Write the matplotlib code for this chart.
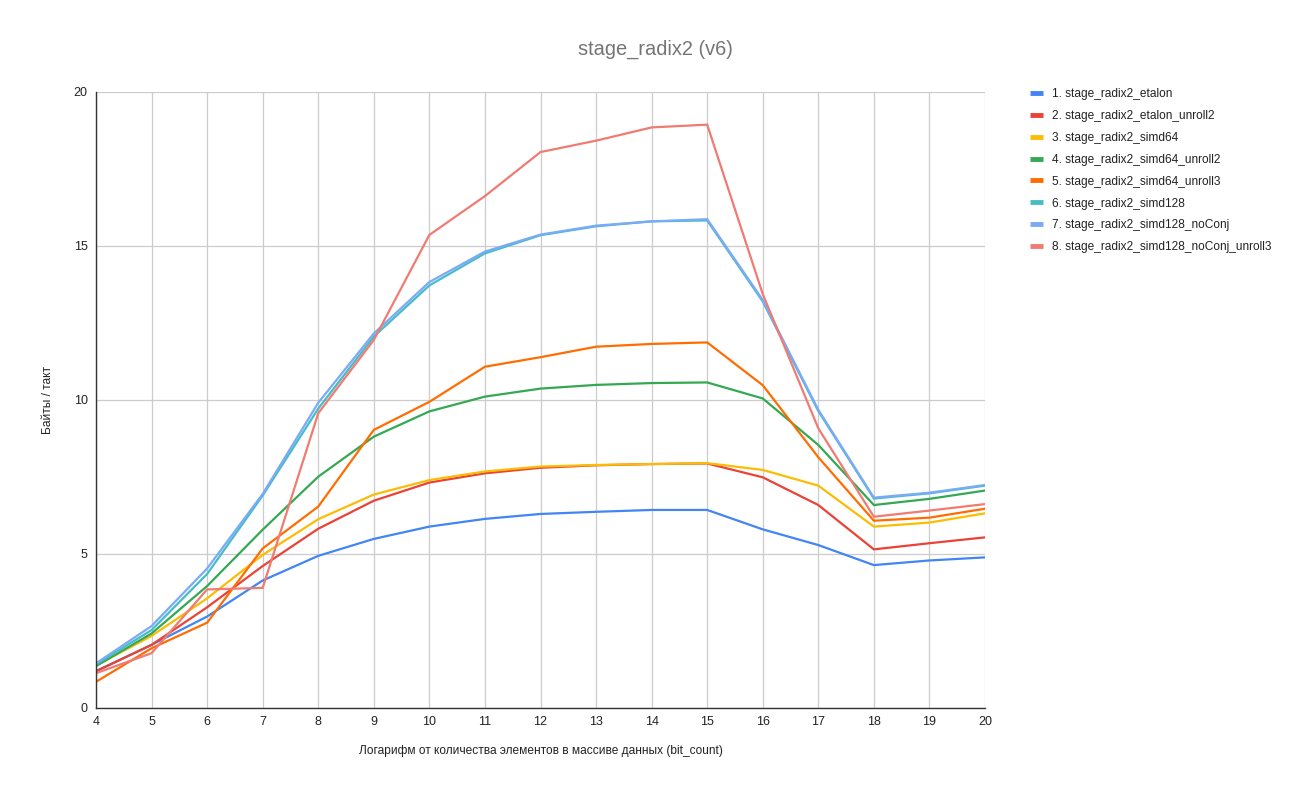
import matplotlib.pyplot as plt
from matplotlib.lines import Line2D

plt.rcParams["font.family"] = ["Liberation Sans", "DejaVu Sans"]

bit_count = list(range(4, 21))

series_names = [
    "1. stage_radix2_etalon",
    "2. stage_radix2_etalon_unroll2",
    "3. stage_radix2_simd64",
    "4. stage_radix2_simd64_unroll2",
    "5. stage_radix2_simd64_unroll3",
    "6. stage_radix2_simd128",
    "7. stage_radix2_simd128_noConj",
    "8. stage_radix2_simd128_noConj_unroll3",
]

etalon = [1.20, 2.05, 2.97, 4.14, 4.94, 5.49, 5.89, 6.14, 6.30, 6.37, 6.43, 6.43, 5.80, 5.29, 4.64, 4.79, 4.89]
etalon_unroll2 = [1.19, 2.05, 3.27, 4.61, 5.82, 6.73, 7.32, 7.62, 7.80, 7.88, 7.92, 7.94, 7.49, 6.59, 5.15, 5.35, 5.54]
simd64 = [1.38, 2.34, 3.56, 4.97, 6.13, 6.93, 7.40, 7.68, 7.84, 7.89, 7.92, 7.95, 7.73, 7.22, 5.89, 6.02, 6.32]
simd64_unroll2 = [1.36, 2.42, 3.96, 5.79, 7.51, 8.81, 9.63, 10.11, 10.37, 10.49, 10.55, 10.57, 10.05, 8.54, 6.59, 6.79, 7.06]
simd64_unroll3 = [0.85, 1.94, 2.77, 5.18, 6.54, 9.03, 9.94, 11.08, 11.39, 11.73, 11.82, 11.87, 10.48, 8.14, 6.08, 6.18, 6.47]
simd128 = [1.42, 2.53, 4.35, 6.90, 9.72, 12.06, 13.72, 14.76, 15.35, 15.64, 15.80, 15.83, 13.20, 9.64, 6.80, 6.97, 7.22]
simd128_noconj = [1.45, 2.66, 4.53, 6.95, 9.91, 12.16, 13.83, 14.82, 15.37, 15.66, 15.80, 15.87, 13.25, 9.68, 6.83, 6.99, 7.24]
simd128_noconj_unroll3 = [1.13, 1.78, 3.85, 3.90, 9.57, 11.95, 15.36, 16.62, 18.05, 18.42, 18.85, 18.94, 13.44, 9.08, 6.21, 6.41, 6.62]

colors = ["#4285F4", "#EA4335", "#FBBC04", "#34A853", "#FF6D01", "#46BDC6", "#7BAAF7", "#F07B72"]

all_series = [etalon, etalon_unroll2, simd64, simd64_unroll2, simd64_unroll3,
              simd128, simd128_noconj, simd128_noconj_unroll3]

fig = plt.figure(figsize=(13, 7.95), dpi=100)
ax = fig.add_axes([96 / 1300, 1 - 708 / 795, (985 - 96) / 1300, (708 - 92) / 795])

for values, color in zip(all_series, colors):
    ax.plot(bit_count, values, color=color, linewidth=1.6, solid_joinstyle="miter")

ax.set_xlim(4, 20)
ax.set_ylim(0, 20)
ax.set_xticks(bit_count)
ax.set_yticks([0, 5, 10, 15, 20])
ax.grid(True, color="#cccccc", linewidth=0.9)
ax.set_axisbelow(True)
for side in ("top", "right"):
    ax.spines[side].set_visible(False)
for side in ("left", "bottom"):
    ax.spines[side].set_color("#333333")
    ax.spines[side].set_linewidth(1.0)
ax.tick_params(length=0, labelsize=9, colors="#222222", pad=6)

ax.set_xlabel("Логарифм от количества элементов в массиве данных (bit_count)",
              fontsize=8.6, color="#222222", labelpad=12)
ax.set_ylabel("Байты / такт", fontsize=8.6, color="#222222", labelpad=14)

fig.text(655 / 1300, 1 - 49 / 795, "stage_radix2 (v6)", ha="center", va="center",
         fontsize=14.4, color="#757575")

handles = [Line2D([0], [0], color=c, linewidth=3.5, solid_capstyle="butt") for c in colors]
fig.legend(handles, series_names, loc="upper left",
           bbox_to_anchor=(1030 / 1300, 1 - 88 / 795), frameon=False,
           fontsize=8.6, handlelength=1.1, handletextpad=0.7,
           labelspacing=0.83, borderaxespad=0, borderpad=0, labelcolor="#222222")

fig.savefig("out.png", dpi=100, facecolor="white")
